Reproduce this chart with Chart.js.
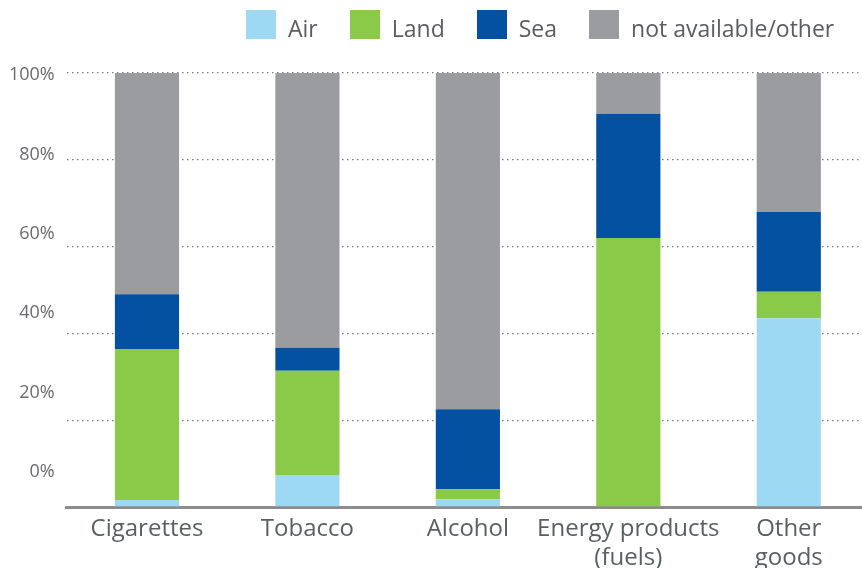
<!DOCTYPE html>
<html>
<head>
<meta charset="utf-8">
<script src="https://cdn.jsdelivr.net/npm/chart.js@4"></script>
<style>
  body { margin: 0; background: #fff; }
  #wrap { position: relative; width: 862px; height: 568px; overflow: hidden; }
  #legend { position: absolute; top: 10px; left: 246px; display: flex; font-family: "Open Sans", sans-serif; font-size: 23px; color: #5b5d60; }
  .item { display: flex; align-items: flex-start; margin-right: 32px; }
  .box { width: 30px; height: 29px; margin-right: 12px; }
  .txt { line-height: 29px; padding-top: 4px; white-space: nowrap; }
</style>
</head>
<body>
<div id="wrap">
  <!-- canvas a bit wider than the window: the last category runs past the right edge in the original -->
  <canvas id="chart" width="869" height="568"></canvas>
  <div id="legend"></div>
</div>
<script>
const categories = ["Cigarettes", "Tobacco", "Alcohol", ["Energy products", "(fuels)"], ["Other", "goods"]];
const air = [1.6, 7.4, 1.8, 0, 43.5];
const land = [34.8, 24.0, 2.3, 62.0, 6.1];
const sea = [12.6, 5.3, 18.4, 28.6, 18.4];
const other = [51.0, 63.3, 77.5, 9.4, 32.0];
const yTicks = [0, 20, 40, 60, 80, 100];

const seriesNames = ["Air", "Land", "Sea", "not available/other"];
const colors = ["#9ed9f3", "#8bc948", "#0451a2", "#9b9ca0"];
const series = [air, land, sea, other];

const datasets = series.map((d, i) => ({
    label: seriesNames[i],
    data: d,
    backgroundColor: colors[i],
    borderWidth: 0,
    barPercentage: 0.4,
    categoryPercentage: 1,
    yAxisID: "y"
}));

// legend as html, built from the same names/colors
const legend = document.getElementById("legend");
seriesNames.forEach((name, i) => {
    const it = document.createElement("div");
    it.className = "item";
    it.innerHTML = `<div class="box" style="background:${colors[i]}"></div><div class="txt">${name}</div>`;
    legend.appendChild(it);
});

const ctx = document.getElementById("chart").getContext("2d");
new Chart(ctx, {
    type: "bar",
    data: { labels: categories, datasets: datasets },
    options: {
        responsive: false,
        animation: false,
        layout: { padding: { top: 73, right: 0, left: 0, bottom: 0 } },
        plugins: { legend: { display: false }, tooltip: { enabled: false } },
        scales: {
            x: {
                stacked: true,
                grid: { display: false, drawTicks: false },
                border: { display: true, color: "#8c8c8e", width: 3 },
                ticks: {
                    color: "#5a5f61", padding: 8, maxRotation: 0, minRotation: 0, autoSkip: false,
                    font: { family: "Open Sans", size: 24 }
                },
                afterFit: s => { s.height = 61; }
            },
            y: {
                stacked: true,
                min: 0, max: 100,
                position: "left",
                grid: { color: "#7d7d7d", lineWidth: 1.3, drawTicks: false },
                border: { display: false, dash: [1.5, 3.5] },
                ticks: { display: false, stepSize: 20 },
                afterFit: s => { s.width = 0; }
            },
            y2: {
                min: -8.8, max: 100.5,
                position: "left",
                grid: { display: false, drawTicks: false },
                border: { display: false },
                afterBuildTicks: s => { s.ticks = yTicks.map(v => ({ value: v })); },
                ticks: {
                    color: "#6a6b6e", padding: 12,
                    font: { family: "Open Sans", size: 18 },
                    callback: v => v + "%"
                },
                afterFit: s => { s.width = 66.75; }
            }
        }
    }
});
</script>
</body>
</html>
